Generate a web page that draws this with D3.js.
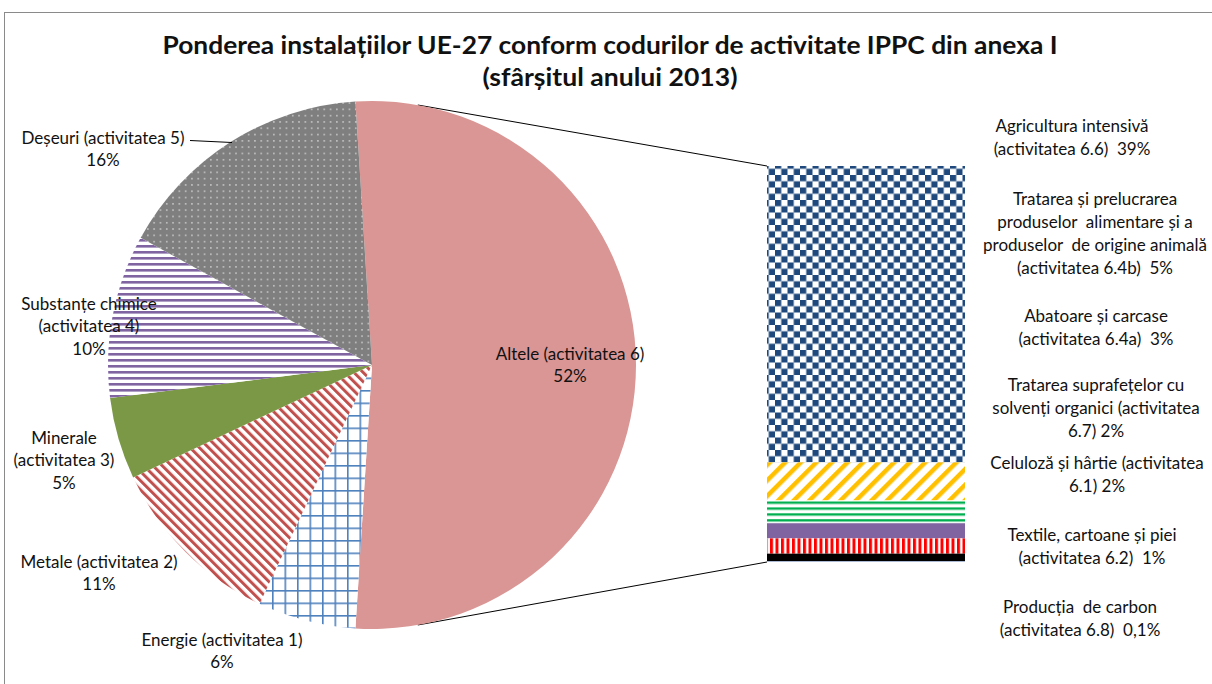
<!DOCTYPE html>
<html>
	<head>
		<meta charset="utf-8">
		<title>Ponderea instalațiilor UE-27</title>
		<script src="https://d3js.org/d3.v7.min.js" charset="utf-8"></script>
		<style>
			body {
				margin: 0;
				background: white;
				font-family: "Lato", "Liberation Sans", sans-serif;
			}
			text {
				fill: #111;
				font-size: 17px;
			}
			.title {
				font-weight: bold;
				font-size: 25px;
			}
		</style>
	</head>
	<body>
		<script>
		// pie data (main categories)
		var pieLabels = ["Altele (activitatea 6)", "Energie (activitatea 1)", "Metale (activitatea 2)",
			"Minerale (activitatea 3)", "Substanțe chimice (activitatea 4)", "Deșeuri (activitatea 5)"];
		var pieValues = [52, 6, 11, 5, 10, 16];
		var pieText = ["52%", "6%", "11%", "5%", "10%", "16%"];

		// bar data (split of "Altele"), top to bottom
		var barLabels = [
			["Agricultura intensivă", "(activitatea 6.6)  39%"],
			["Tratarea și prelucrarea", "produselor  alimentare și a", "produselor  de origine animală", "(activitatea 6.4b)  5%"],
			["Abatoare și carcase", "(activitatea 6.4a)  3%"],
			["Tratarea suprafețelor cu", "solvenți organici (activitatea", "6.7) 2%"],
			["Celuloză și hârtie (activitatea", "6.1) 2%"],
			["Textile, cartoane și piei", "(activitatea 6.2)  1%"],
			["Producția  de carbon", "(activitatea 6.8)  0,1%"]
		];
		var barValues = [39, 5, 3, 2, 2, 1, 0.1];

		var width = 1212;
		var height = 684;

		var svg = d3.select("body")
			.append("svg")
			.attr("width", width)
			.attr("height", height);

		var defs = svg.append("defs");

		// ---- fill patterns ----
		function pattern(id, w, h, bg, transform) {
			var p = defs.append("pattern")
				.attr("id", id)
				.attr("patternUnits", "userSpaceOnUse")
				.attr("width", w)
				.attr("height", h);
			if (transform) p.attr("patternTransform", transform);
			p.append("rect").attr("width", w).attr("height", h).attr("fill", bg);
			return p;
		}

		// energie: blue grid
		var pGrid = pattern("grid", 12.5, 12.5, "white");
		pGrid.append("rect").attr("x", 0).attr("y", 0).attr("width", 1.6).attr("height", 12.5).attr("fill", "#4f81bd");
		pGrid.append("rect").attr("x", 0).attr("y", 0).attr("width", 12.5).attr("height", 1.6).attr("fill", "#4f81bd");

		// metale: red "\" stripes
		var pDiag = pattern("diagRed", 6.5, 10, "white", "rotate(-45)");
		pDiag.append("rect").attr("width", 3).attr("height", 10).attr("fill", "#c0504d");

		// substante: purple horizontal stripes
		var pHor = pattern("horPurple", 10, 6, "white");
		pHor.append("rect").attr("width", 10).attr("height", 2.6).attr("fill", "#8064a2");

		// deseuri: grey with white dots
		var pDots = pattern("dots", 6.3, 6.3, "#7f7f7f");
		pDots.append("rect").attr("x", 2).attr("y", 2).attr("width", 1.3).attr("height", 1.3).attr("fill", "#e8e8e8");

		// agricultura: navy checkerboard
		var pChk = pattern("checker", 12.5, 12.5, "white");
		pChk.append("rect").attr("width", 6.25).attr("height", 6.25).attr("fill", "#1f497d");
		pChk.append("rect").attr("x", 6.25).attr("y", 6.25).attr("width", 6.25).attr("height", 6.25).attr("fill", "#1f497d");

		// 6.4b: yellow "/" stripes
		var pYel = pattern("diagYellow", 11, 10, "white", "rotate(45)");
		pYel.append("rect").attr("width", 4.5).attr("height", 10).attr("fill", "#ffc000");

		// 6.4a: green horizontal stripes
		var pGreen = pattern("horGreen", 10, 5.9, "white");
		pGreen.append("rect").attr("width", 10).attr("height", 2.4).attr("fill", "#00b050");

		// 6.1: red vertical stripes
		var pRed = pattern("vertRed", 5.5, 10, "white");
		pRed.append("rect").attr("width", 3).attr("height", 10).attr("fill", "#ff0000");

		var pieFills = ["#d99694", "url(#grid)", "url(#diagRed)", "#7b9846", "url(#horPurple)", "url(#dots)"];
		var barFills = ["url(#checker)", "url(#diagYellow)", "url(#horGreen)", "#8064a2", "url(#vertRed)", "#000000", "#a6b9dc"];

		// chart frame
		svg.append("rect")
			.attr("x", 4.5)
			.attr("y", 12.5)
			.attr("width", 1230)
			.attr("height", 700)
			.attr("fill", "white")
			.attr("stroke", "#8a8a8a");

		// title
		svg.append("text").attr("class", "title")
			.attr("x", 610).attr("y", 54)
			.attr("text-anchor", "middle")
			.attr("textLength", 895)
			.attr("lengthAdjust", "spacingAndGlyphs")
			.text("Ponderea instalațiilor UE-27 conform codurilor de activitate IPPC din anexa I");
		svg.append("text").attr("class", "title")
			.attr("x", 610).attr("y", 86)
			.attr("text-anchor", "middle")
			.attr("textLength", 255)
			.attr("lengthAdjust", "spacingAndGlyphs")
			.text("(sfârșitul anului 2013)");

		// ---- pie ----
		var cx = 372, cy = 365, r = 264;
		var total = d3.sum(pieValues);
		var start = Math.PI / 2 - Math.PI * pieValues[0] / total;

		var pie = d3.pie()
			.sort(null)
			.startAngle(start)
			.endAngle(start + 2 * Math.PI);
		var arcs = pie(pieValues);
		var arc = d3.arc().innerRadius(0).outerRadius(r);

		// ---- bar of "Altele" (first value on top) ----
		var barX = 767, barW = 198;
		var y = d3.scaleLinear()
			.domain([0, d3.sum(barValues)])
			.range([166, 562]);
		var cum = 0;
		var barData = barValues.map(function(v, i) {
			var d = {i: i, v: v, y0: cum, y1: cum + v};
			cum += v;
			return d;
		});

		// series lines from pie to bar (drawn under the pie)
		var a0 = 10 * Math.PI / 180;
		var lines = svg.append("g").attr("stroke", "#000").attr("stroke-width", 1);
		lines.append("line")
			.attr("x1", cx + r * Math.sin(a0)).attr("y1", cy - r * Math.cos(a0))
			.attr("x2", barX).attr("y2", y(0));
		lines.append("line")
			.attr("x1", cx + r * Math.sin(a0)).attr("y1", cy + r * Math.cos(a0))
			.attr("x2", barX).attr("y2", y(d3.sum(barValues)));

		var g = svg.append("g").attr("transform", "translate(" + cx + "," + cy + ")");
		g.selectAll("path")
			.data(arcs)
			.enter()
			.append("path")
			.attr("d", arc)
			.attr("fill", function(d, i) { return pieFills[i]; });

		svg.append("g").selectAll("rect")
			.data(barData)
			.enter()
			.append("rect")
			.attr("x", barX)
			.attr("width", barW)
			.attr("y", function(d) { return y(d.y0); })
			.attr("height", function(d) { return y(d.y1) - y(d.y0); })
			.attr("fill", function(d) { return barFills[d.i]; });

		// ---- pie labels ----
		function splitLabel(i) {
			var name = pieLabels[i];
			var k = name.indexOf(" (");
			return [name.slice(0, k), name.slice(k + 1)];
		}
		// label layout: centre x, first line y, how the name is wrapped
		var pieLabelPos = [
			null,
			{x: 222, y: 640, wrap: false},
			{x: 99, y: 562, wrap: false},
			{x: 64, y: 438, wrap: true},
			{x: 89, y: 304, wrap: true},
			{x: 103, y: 138, wrap: false}
		];

		var labels = svg.append("g").attr("text-anchor", "middle");

		// Altele label inside its slice
		var c0 = arc.centroid(arcs[0]);
		labels.append("text")
			.attr("x", cx + c0[0] * 1.5).attr("y", cy + c0[1] * 1.5 - 11)
			.attr("dy", "0.35em")
			.text(pieLabels[0]);
		labels.append("text")
			.attr("x", cx + c0[0] * 1.5).attr("y", cy + c0[1] * 1.5 + 11)
			.attr("dy", "0.35em")
			.text(pieText[0]);

		pieLabelPos.forEach(function(p, i) {
			if (!p) return;
			var rows = p.wrap ? splitLabel(i).concat([pieText[i]]) : [pieLabels[i], pieText[i]];
			rows.forEach(function(t, j) {
				labels.append("text")
					.attr("x", p.x).attr("y", p.y + j * 22.5)
					.attr("dy", "0.35em")
					.text(t);
			});
		});

		// leader line for Deseuri
		svg.append("line")
			.attr("x1", 190).attr("y1", 140.5)
			.attr("x2", 232).attr("y2", 142.5)
			.attr("stroke", "#000").attr("stroke-width", 1);

		// ---- bar labels ----
		var barLabelPos = [
			{x: 1072, y: 126},
			{x: 1095, y: 199},
			{x: 1096, y: 316},
			{x: 1096, y: 385},
			{x: 1097, y: 463},
			{x: 1092, y: 535},
			{x: 1080, y: 607}
		];
		barLabels.forEach(function(rows, i) {
			rows.forEach(function(t, j) {
				labels.append("text")
					.attr("x", barLabelPos[i].x)
					.attr("y", barLabelPos[i].y + j * 23)
					.attr("dy", "0.35em")
					.style("white-space", "pre")
					.text(t);
			});
		});
		</script>
	</body>
</html>
